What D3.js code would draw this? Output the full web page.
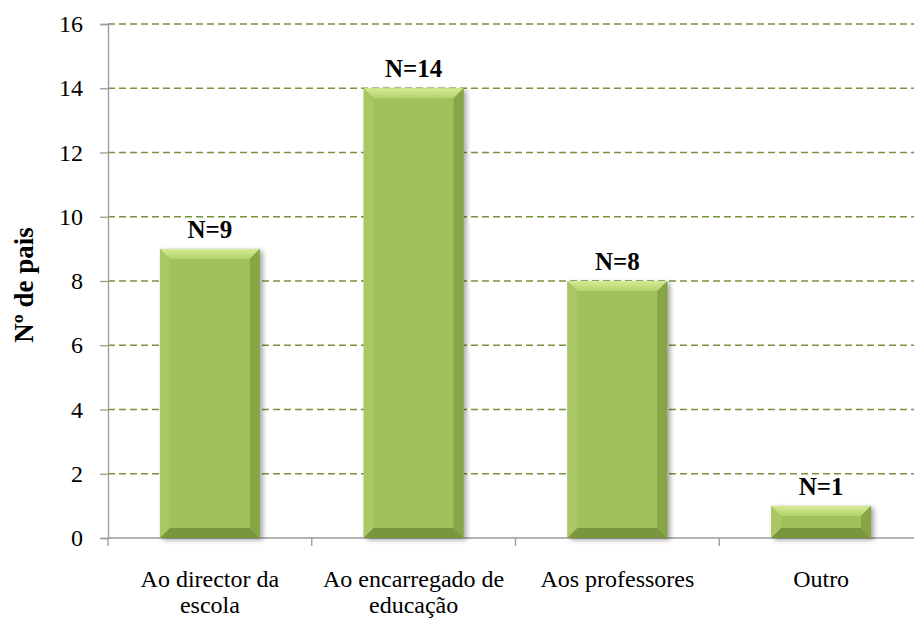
<!DOCTYPE html>
<html>
<head>
<meta charset="utf-8">
<script src="https://cdn.jsdelivr.net/npm/d3@7"></script>
<style>
  body { margin: 0; background: #fff; }
</style>
</head>
<body>
<svg id="chart" width="914" height="620"></svg>
<script>
// data
let categories = [["Ao director da", "escola"], ["Ao encarregado de", "educação"], ["Aos professores"], ["Outro"]];
let values = [9, 14, 8, 1];
let labels = ["N=9", "N=14", "N=8", "N=1"];
let yTicks = [0, 2, 4, 6, 8, 10, 12, 14, 16];

const FONT = "'Liberation Serif'";

let svg = d3.select("#chart");
let mLeft = 108, mRight = 923, mTop = 24, mBottom = 538;

let x = d3.scaleBand()
    .domain(d3.range(categories.length))
    .range([mLeft, mRight])
    .paddingInner(0.51)
    .paddingOuter(0.255);

let y = d3.scaleLinear().domain([0, 16]).range([mBottom, mTop]);

let defs = svg.append("defs");
let blur = defs.append("filter").attr("id", "shadow")
    .attr("x", "-20%").attr("y", "-20%").attr("width", "140%").attr("height", "140%");
blur.append("feGaussianBlur").attr("stdDeviation", 2.5);

let gTop = defs.append("linearGradient").attr("id", "gTop").attr("x1", 0).attr("y1", 0).attr("x2", 0).attr("y2", 1);
gTop.append("stop").attr("offset", "0%").attr("stop-color", "#d6eb93");
gTop.append("stop").attr("offset", "100%").attr("stop-color", "#b4d26c");

// grid
svg.append("g")
    .selectAll("line")
    .data(yTicks.filter(d => d > 0))
    .enter().append("line")
    .attr("x1", mLeft).attr("x2", 914)
    .attr("y1", d => y(d)).attr("y2", d => y(d))
    .attr("stroke", "#77933c")
    .attr("stroke-width", 1.3)
    .attr("stroke-dasharray", "7,4");

// y axis (ticks and line), labels drawn separately
let yAxis = svg.append("g")
    .attr("transform", "translate(" + mLeft + ",0)")
    .call(d3.axisLeft(y).tickValues(yTicks).tickSize(8).tickFormat(""));
yAxis.select(".domain").attr("stroke", "#9a9a9a").attr("stroke-width", 1.3);
yAxis.selectAll(".tick line").attr("stroke", "#9a9a9a").attr("stroke-width", 1.3);

svg.append("g")
    .selectAll("text")
    .data(yTicks)
    .enter().append("text")
    .attr("text-anchor", "end")
    .attr("dominant-baseline", "central")
    .style("font-family", FONT)
    .style("font-size", "24px")
    .attr("x", mLeft - 25)
    .attr("y", d => y(d))
    .text(d => d);

// x axis
let bounds = d3.range(categories.length + 1).map(i => mLeft + i * x.step());
svg.append("line")
    .attr("x1", mLeft).attr("x2", 914)
    .attr("y1", mBottom).attr("y2", mBottom)
    .attr("stroke", "#9a9a9a").attr("stroke-width", 1.3);
svg.append("g")
    .selectAll("line")
    .data(bounds)
    .enter().append("line")
    .attr("x1", d => d).attr("x2", d => d)
    .attr("y1", mBottom).attr("y2", mBottom + 8)
    .attr("stroke", "#9a9a9a").attr("stroke-width", 1.3);

let xLab = svg.append("g");
categories.forEach(function (lines, i) {
    lines.forEach(function (line, j) {
        xLab.append("text")
            .attr("text-anchor", "middle")
            .style("font-family", FONT)
            .style("font-size", "24px")
            .attr("x", x(i) + x.bandwidth() / 2)
            .attr("y", 587 + j * 26)
            .text(line);
    });
});

// bars
let bw = x.bandwidth();
let bar = svg.append("g")
    .selectAll("g")
    .data(values)
    .enter().append("g")
    .attr("transform", (d, i) => "translate(" + x(i) + "," + y(d) + ")");

bar.append("rect")
    .attr("x", 3).attr("y", 2)
    .attr("width", bw).attr("height", d => mBottom - y(d))
    .attr("fill", "#000").attr("opacity", 0.35)
    .attr("filter", "url(#shadow)");

bar.append("rect")
    .attr("width", bw).attr("height", d => mBottom - y(d))
    .attr("fill", "#9fc05c");

function bev(d) {
    let h = mBottom - y(d);
    let b = Math.min(10, h / 2);
    return { h: h, b: b };
}
// top bevel
bar.append("polygon")
    .attr("points", d => { let v = bev(d); return [[0, 0], [bw, 0], [bw - v.b, v.b], [v.b, v.b]].join(" "); })
    .attr("fill", "url(#gTop)");
// left bevel
bar.append("polygon")
    .attr("points", d => { let v = bev(d); return [[0, 0], [v.b, v.b], [v.b, v.h - v.b], [0, v.h]].join(" "); })
    .attr("fill", "#a9c765");
// right bevel
bar.append("polygon")
    .attr("points", d => { let v = bev(d); return [[bw, 0], [bw, v.h], [bw - v.b, v.h - v.b], [bw - v.b, v.b]].join(" "); })
    .attr("fill", "#86a546");
// bottom bevel
bar.append("polygon")
    .attr("points", d => { let v = bev(d); return [[0, v.h], [v.b, v.h - v.b], [bw - v.b, v.h - v.b], [bw, v.h]].join(" "); })
    .attr("fill", "#79963d");

// value labels
svg.append("g")
    .selectAll("text")
    .data(values)
    .enter().append("text")
    .attr("text-anchor", "middle")
    .style("font-family", FONT)
    .style("font-size", "25px")
    .style("font-weight", "bold")
    .attr("x", (d, i) => x(i) + bw / 2)
    .attr("y", d => y(d) - 11)
    .text((d, i) => labels[i]);

// y title
svg.append("text")
    .attr("transform", "translate(33,285) rotate(-90)")
    .attr("text-anchor", "middle")
    .style("font-family", FONT)
    .style("font-size", "27px")
    .style("font-weight", "bold")
    .text("Nº de pais");
</script>
</body>
</html>
